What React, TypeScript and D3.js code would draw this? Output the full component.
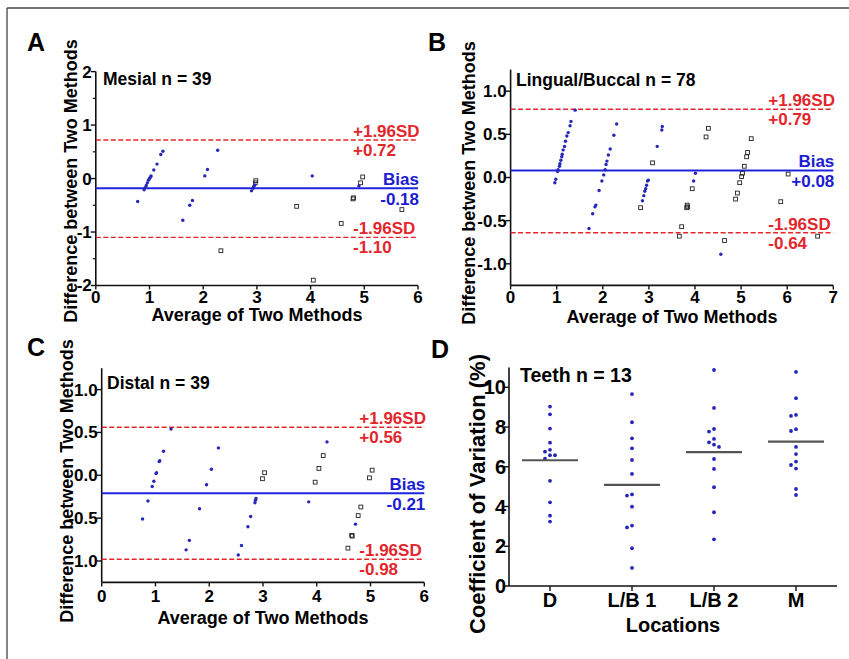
import React from 'react';
import * as d3 from 'd3';

// ---------------- DATA ----------------
// Panel A – Mesial (x = average, y = difference)
const mesialDots: [number, number][] = [
  [0.78, -0.43], [0.9, -0.21], [0.92, -0.17], [0.94, -0.13], [0.96, -0.08], [0.98, -0.03],
  [1.0, 0.0], [1.02, 0.03], [1.03, 0.05], [1.08, 0.16], [1.14, 0.27], [1.21, 0.45], [1.25, 0.51],
  [1.62, -0.78], [1.75, -0.5], [1.8, -0.41], [2.03, 0.05], [2.08, 0.17], [2.27, 0.53],
  [2.9, -0.23], [2.93, -0.18], [2.94, -0.15], [2.96, -0.12], [4.03, 0.05], [4.9, -0.14],
];
const mesialSquares: [number, number][] = [
  [2.33, -1.35], [2.97, -0.08], [2.98, -0.04], [3.74, -0.52], [4.05, -1.9], [4.57, -0.84],
  [4.79, -0.38], [4.8, -0.36], [4.93, -0.08], [4.97, 0.03], [5.7, -0.58],
];
const mesialLimits = [0.72, -0.18, -1.1]; // +1.96SD, bias, -1.96SD

// Panel B – Lingual/Buccal
const lingualDots: [number, number][] = [
  [0.96, -0.06], [0.98, -0.02], [1.02, 0.07], [1.03, 0.09], [1.06, 0.13], [1.07, 0.16], [1.09, 0.2],
  [1.11, 0.24], [1.12, 0.27], [1.14, 0.32], [1.17, 0.36], [1.19, 0.42], [1.22, 0.48], [1.25, 0.52],
  [1.29, 0.6], [1.31, 0.65], [1.4, 0.78],
  [1.7, -0.59], [1.78, -0.42], [1.83, -0.34], [1.85, -0.32], [1.92, -0.15], [1.98, -0.04],
  [2.02, 0.03], [2.05, 0.09], [2.07, 0.15], [2.09, 0.19], [2.12, 0.26], [2.16, 0.33], [2.24, 0.49], [2.3, 0.62],
  [2.86, -0.27], [2.89, -0.21], [2.91, -0.16], [2.93, -0.13], [2.95, -0.09], [2.97, -0.04], [2.99, -0.03],
  [3.18, 0.36], [3.28, 0.55], [3.29, 0.59],
  [3.97, -0.04], [4.01, 0.05], [4.56, -0.89],
];
const lingualSquares: [number, number][] = [
  [2.82, -0.35], [3.08, 0.17], [3.66, -0.68], [3.71, -0.57], [3.82, -0.35], [3.83, -0.32], [3.84, -0.34],
  [3.94, -0.13], [4.24, 0.47], [4.29, 0.57], [4.64, -0.73], [4.88, -0.25], [4.92, -0.18], [4.97, -0.06],
  [5.01, 0.01], [5.03, 0.05], [5.07, 0.13], [5.12, 0.24], [5.14, 0.29], [5.22, 0.45], [5.86, -0.28],
  [6.02, 0.04], [6.66, -0.68],
];
const lingualLimits = [0.79, 0.08, -0.64];

// Panel C – Distal
const distalDots: [number, number][] = [
  [0.76, -0.51], [0.86, -0.3], [0.94, -0.13], [0.97, -0.07], [1.01, 0.02], [1.02, 0.03], [1.07, 0.16],
  [1.08, 0.17], [1.15, 0.28], [1.29, 0.54], [1.57, -0.87], [1.63, -0.76], [1.82, -0.39], [1.95, -0.11],
  [2.04, 0.07], [2.17, 0.32], [2.54, -0.93], [2.6, -0.82], [2.72, -0.6], [2.77, -0.48], [2.85, -0.32],
  [2.86, -0.29], [2.87, -0.27], [3.85, -0.31], [4.19, 0.39], [4.72, -0.57],
];
const distalSquares: [number, number][] = [
  [2.99, -0.04], [3.03, 0.03], [3.97, -0.08], [4.04, 0.08], [4.12, 0.23], [4.58, -0.85], [4.65, -0.7],
  [4.66, -0.71], [4.77, -0.47], [4.82, -0.37], [4.98, -0.03], [5.03, 0.06],
];
const distalLimits = [0.56, -0.21, -0.98];

// Panel D – Coefficient of variation by location
const locations = ['D', 'L/B 1', 'L/B 2', 'M'];
const cvD = [9.03, 8.64, 7.92, 7.21, 6.85, 6.76, 6.58, 6.58, 6.41, 5.29, 4.21, 3.54, 3.24];
const cvLB1 = [9.66, 8.24, 7.43, 6.93, 6.34, 5.64, 4.61, 4.55, 3.99, 3.04, 2.95, 1.9, 0.91];
const cvLB2 = [10.87, 8.96, 7.9, 7.77, 7.4, 7.23, 7.11, 7.0, 6.39, 5.89, 4.97, 3.71, 2.35];
const cvM = [10.77, 9.45, 8.61, 8.56, 7.89, 7.8, 7.0, 6.64, 6.26, 6.09, 5.91, 4.88, 4.58];
const cvTicks = [0, 2, 4, 6, 8, 10];

// ---------------- STYLE ----------------
const FONT = "'Liberation Sans', Arial, Helvetica, sans-serif";
const BLUE_DOT = '#2626b8';
const BLUE_LINE = '#1f24e0';
const BLUE_TEXT = '#1c1cd2';
const RED = '#e3262c';
const AXIS = '#111';

const fmtSigned = (v: number) => (v >= 0 ? '+' : '-') + Math.abs(v).toFixed(2);

type BACfg = {
  letter: string; letterPos: [number, number];
  xRange: [number, number]; yRange: [number, number];
  xDomain: [number, number]; yDomain: [number, number];
  yTicks: number[]; yFmt: (v: number) => string; minor: number[];
  dots: [number, number][]; squares: [number, number][]; limits: number[];
  title: string; titlePos: [number, number];
  yTitlePos: [number, number]; xTitleY: number; xTickY: number;
};

function BAPanel({ c }: { c: BACfg }) {
  const x = d3.scaleLinear().domain(c.xDomain).range(c.xRange);
  const y = d3.scaleLinear().domain(c.yDomain).range(c.yRange);
  const xTicks = d3.range(c.xDomain[0], c.xDomain[1] + 1);
  const [x0, x1] = c.xRange;
  const yBottom = c.yRange[0];
  const yTop = c.yRange[1];
  const [up, bias, lo] = c.limits;
  const sdLeft = x1 - 65;
  return (
    <g fontFamily={FONT} fontWeight="bold">
      <text x={c.letterPos[0]} y={c.letterPos[1]} dy="0.35em" textAnchor="middle" fontSize={25}>{c.letter}</text>
      {/* axes */}
      <line x1={x0} x2={x0} y1={yTop} y2={yBottom} stroke={AXIS} strokeWidth={1.6} />
      <line x1={x0} x2={x1} y1={yBottom} y2={yBottom} stroke={AXIS} strokeWidth={1.6} />
      {c.yTicks.map((t) => (
        <g key={'yt' + t}>
          <line x1={x0 - 5} x2={x0} y1={y(t)} y2={y(t)} stroke={AXIS} strokeWidth={1.4} />
          <text x={x0 - 4} y={y(t)} dy="0.35em" textAnchor="end" fontSize={17}>{c.yFmt(t)}</text>
        </g>
      ))}
      {c.minor.map((t) => (
        <line key={'ym' + t} x1={x0 - 3} x2={x0} y1={y(t)} y2={y(t)} stroke={AXIS} strokeWidth={1.2} />
      ))}
      {xTicks.map((t) => (
        <g key={'xt' + t}>
          <line x1={x(t)} x2={x(t)} y1={yBottom} y2={yBottom + 4} stroke={AXIS} strokeWidth={1.4} />
          <text x={x(t)} y={c.xTickY} dy="0.35em" textAnchor="middle" fontSize={17}>{t}</text>
        </g>
      ))}
      <text x={(x0 + x1) / 2} y={c.xTitleY} dy="0.35em" textAnchor="middle" fontSize={18}>Average of Two Methods</text>
      <text transform={`translate(${c.yTitlePos[0]},${c.yTitlePos[1]}) rotate(-90)`} dy="0.35em" textAnchor="middle" fontSize={18}>
        Difference between Two Methods
      </text>
      <text x={c.titlePos[0]} y={c.titlePos[1]} dy="0.35em" fontSize={17.5}>{c.title}</text>
      {/* limit lines */}
      <line x1={x0} x2={x1} y1={y(up)} y2={y(up)} stroke={RED} strokeWidth={1.4} strokeDasharray="5,2.5" />
      <line x1={x0} x2={x1} y1={y(lo)} y2={y(lo)} stroke={RED} strokeWidth={1.4} strokeDasharray="5,2.5" />
      <line x1={x0} x2={x1} y1={y(bias)} y2={y(bias)} stroke={BLUE_LINE} strokeWidth={2} />
      {/* points */}
      {c.squares.map((p, i) => (
        <rect key={'s' + i} x={x(p[0]) - 1.9} y={y(p[1]) - 1.9} width={3.8} height={3.8} fill="none" stroke="#222" strokeWidth={0.9} />
      ))}
      {c.dots.map((p, i) => (
        <circle key={'d' + i} cx={x(p[0])} cy={y(p[1])} r={1.7} fill={BLUE_DOT} />
      ))}
      {/* labels */}
      <text x={sdLeft} y={y(up) - 9} dy="0.35em" fontSize={17} fill={RED}>+1.96SD</text>
      <text x={sdLeft} y={y(up) + 10} dy="0.35em" fontSize={17} fill={RED}>{fmtSigned(up)}</text>
      <text x={x1 + 1} y={y(bias) - 9.5} dy="0.35em" textAnchor="end" fontSize={17} fill={BLUE_TEXT}>Bias</text>
      <text x={x1 + 1} y={y(bias) + 10.5} dy="0.35em" textAnchor="end" fontSize={17} fill={BLUE_TEXT}>{fmtSigned(bias)}</text>
      <text x={sdLeft} y={y(lo) - 9} dy="0.35em" fontSize={17} fill={RED}>-1.96SD</text>
      <text x={sdLeft} y={y(lo) + 10} dy="0.35em" fontSize={17} fill={RED}>{fmtSigned(lo)}</text>
    </g>
  );
}

function swarm(values: number[], cx: number, yScale: d3.ScaleLinear<number, number>) {
  const placed: { x: number; y: number }[] = [];
  const offs = [0, -5, 5, -10, 10];
  values.forEach((v) => {
    const py = yScale(v);
    for (const o of offs) {
      const px = cx + o;
      if (!placed.some((p) => Math.hypot(p.x - px, p.y - py) < 4.6)) {
        placed.push({ x: px, y: py });
        break;
      }
    }
  });
  return placed;
}

function CVPanel() {
  const x0 = 509, x1 = 837, yB = 586;
  const x = d3.scaleBand().domain(locations).range([x0, x1]).padding(0);
  const y = d3.scaleLinear().domain([0, 11]).range([yB, 367.4]);
  const groups = [cvD, cvLB1, cvLB2, cvM];
  return (
    <g fontFamily={FONT} fontWeight="bold">
      <text x={440} y={349} dy="0.35em" textAnchor="middle" fontSize={25}>D</text>
      <line x1={x0} x2={x0} y1={y(11)} y2={yB} stroke={AXIS} strokeWidth={1.6} />
      <line x1={x0} x2={x1} y1={yB} y2={yB} stroke={AXIS} strokeWidth={1.6} />
      {cvTicks.map((t) => (
        <g key={t}>
          <line x1={x0 - 5} x2={x0} y1={y(t)} y2={y(t)} stroke={AXIS} strokeWidth={1.4} />
          <text x={x0 - 3} y={y(t)} dy="0.35em" textAnchor="end" fontSize={20}>{t}</text>
        </g>
      ))}
      {locations.map((l) => {
        const cx = (x(l) as number) + x.bandwidth() / 2;
        return (
          <g key={l}>
            <line x1={cx} x2={cx} y1={yB} y2={yB + 5} stroke={AXIS} strokeWidth={1.4} />
            <text x={cx} y={600} dy="0.35em" textAnchor="middle" fontSize={20}>{l}</text>
          </g>
        );
      })}
      <text x={(x0 + x1) / 2} y={625} dy="0.35em" textAnchor="middle" fontSize={20}>Locations</text>
      <text transform={`translate(477.5,494) rotate(-90)`} dy="0.35em" textAnchor="middle" fontSize={22}>
        Coefficient of Variation (%)
      </text>
      <text x={520} y={375} dy="0.35em" fontSize={19.5}>Teeth n = 13</text>
      {groups.map((vals, gi) => {
        const cx = (x(locations[gi]) as number) + x.bandwidth() / 2;
        const m = d3.mean(vals) as number;
        const pts = swarm(vals, cx, y);
        return (
          <g key={gi}>
            {pts.map((p, i) => (
              <circle key={i} cx={p.x} cy={p.y} r={1.9} fill={BLUE_DOT} />
            ))}
            <line x1={cx - 28} x2={cx + 28} y1={y(m)} y2={y(m)} stroke="#555" strokeWidth={2.2} />
          </g>
        );
      })}
    </g>
  );
}

const fmtInt = (v: number) => String(v);
const fmt1 = (v: number) => v.toFixed(1);

const panelA: BACfg = {
  letter: 'A', letterPos: [36, 42], xRange: [95.8, 418], yRange: [285.5, 71.6],
  xDomain: [0, 6], yDomain: [-2, 2], yTicks: [-2, -1, 0, 1, 2], yFmt: fmtInt, minor: [-1.5, -0.5, 0.5, 1.5],
  dots: mesialDots, squares: mesialSquares, limits: mesialLimits,
  title: 'Mesial n = 39', titlePos: [103, 79], yTitlePos: [71, 181], xTitleY: 315, xTickY: 297,
};
const panelB: BACfg = {
  letter: 'B', letterPos: [437, 42], xRange: [510.6, 833.3], yRange: [285.4, 69.6],
  xDomain: [0, 7], yDomain: [-1.25, 1.25], yTicks: [-1, -0.5, 0, 0.5, 1], yFmt: fmt1, minor: [],
  dots: lingualDots, squares: lingualSquares, limits: lingualLimits,
  title: 'Lingual/Buccal n = 78', titlePos: [516, 80], yTitlePos: [469, 183], xTitleY: 316.5, xTickY: 297,
};
const panelC: BACfg = {
  letter: 'C', letterPos: [36, 347], xRange: [101.7, 424.3], yRange: [582.4, 368.2],
  xDomain: [0, 6], yDomain: [-1.25, 1.25], yTicks: [-1, -0.5, 0, 0.5, 1], yFmt: fmt1, minor: [],
  dots: distalDots, squares: distalSquares, limits: distalLimits,
  title: 'Distal n = 39', titlePos: [107, 383], yTitlePos: [67, 481], xTitleY: 618, xTickY: 596.5,
};

export default function App() {
  return (
    <svg width={849} height={659} style={{ position: 'absolute', left: 0, top: 0, background: '#fff' }}>
      <rect x={0} y={0} width={849} height={659} fill="#fff" />
      <line x1={7} x2={7} y1={8} y2={659} stroke="#444" strokeWidth={1.3} />
      <line x1={7} x2={849} y1={8} y2={8} stroke="#444" strokeWidth={1.3} />
      <BAPanel c={panelA} />
      <BAPanel c={panelB} />
      <BAPanel c={panelC} />
      <CVPanel />
    </svg>
  );
}
